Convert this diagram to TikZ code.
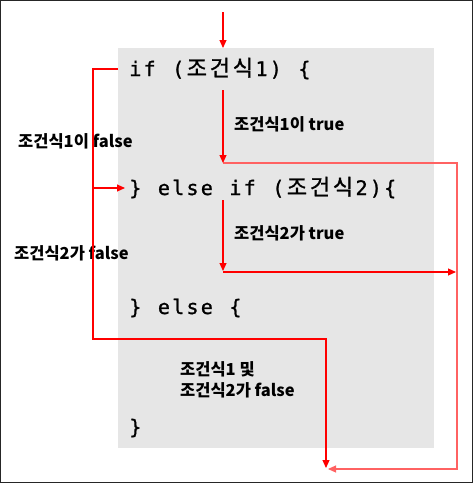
\documentclass[tikz,border=0pt]{standalone}
\usepackage{fontspec}
\usetikzlibrary{arrows.meta}
\newfontfamily\krf{Noto Sans CJK KR}
\newfontfamily\krcode{Noto Sans CJK KR}[FakeBold=1.2]
\newfontfamily\codef{DejaVu Sans Mono}[FakeBold=1.2]
\definecolor{boxgray}{HTML}{E6E6E6}
\definecolor{arrred}{HTML}{FF0000}
\definecolor{arrpink}{HTML}{FF6262}
\newcommand\ch[1]{\makebox[14.3pt][c]{#1}}
\newcommand\kc[1]{\makebox[23pt][c]{\krcode\fontsize{22}{26}\selectfont #1}}
\begin{document}
\begin{tikzpicture}[x=1pt,y=-1pt,
  codetxt/.style={font=\codef\fontsize{20}{24}\selectfont, inner sep=0pt, anchor=base west},
  lbl/.style={font=\krf\bfseries\fontsize{16.5}{21}\selectfont, inner sep=0pt, anchor=base west},
  arr/.style={draw=arrred, line width=1.1pt, -{Triangle[length=8pt,width=7pt]}},
  arrp/.style={draw=arrpink, line width=1.1pt, -{Triangle[length=8pt,width=7pt]}}]
\useasboundingbox (0,0) rectangle (473,483);
\draw[black!85, line width=1.2pt] (0.6,0.6) rectangle (472.4,482.4);
\node[fill=boxgray, minimum width=316pt, minimum height=400pt, inner sep=0pt, anchor=north west] (box) at (118,48) {};
% code lines
\node[codetxt] (l1) at (128,76) {\ch{i}\ch{f}\ch{}\ch{(}\kc{조}\kc{건}\kc{식}\ch{1}\ch{)}\ch{}\ch{\{}};
\node[codetxt] (l2) at (128,195) {\ch{\}}\ch{}\ch{e}\ch{l}\ch{s}\ch{e}\ch{}\ch{i}\ch{f}\ch{}\ch{(}\kc{조}\kc{건}\kc{식}\ch{2}\ch{)}\ch{\{}};
\node[codetxt] (l3) at (128,314) {\ch{\}}\ch{}\ch{e}\ch{l}\ch{s}\ch{e}\ch{}\ch{\{}};
\node[codetxt] (l4) at (128,434) {\ch{\}}};
% labels
\node[lbl] (c1t) at (234,130) {조건식1이 true};
\node[lbl] (c1f) at (18,147) {조건식1이 false};
\node[lbl] (c2t) at (234,239) {조건식2가 true};
\node[lbl] (c2f) at (14,259) {조건식2가 false};
\node[lbl] (c3a) at (180,375) {조건식1 및};
\node[lbl] (c3b) at (180,396) {조건식2가 false};
% coordinates
\coordinate (s0) at (223,12);
\coordinate (t0) at (223,48);
\coordinate (s1) at (223,90);
\coordinate (t1) at (223,163);
\coordinate (r1) at (457,163);
\coordinate (r2) at (457,469);
\coordinate (t3) at (328,469);
\coordinate (s4) at (223,200);
\coordinate (t4) at (223,271);
\coordinate (s5) at (223,272);
\coordinate (t5) at (456,272);
\coordinate (L0) at (118,69);
\coordinate (L1) at (93,69);
\coordinate (L2) at (93,339);
\coordinate (L3) at (326,339);
\coordinate (t6) at (326,468);
\coordinate (Lm) at (93,188);
\coordinate (t7) at (125,188);
% connectors
\draw[arrp] (t1) -- (r1) -- (r2) -- (t3);
\draw[arr] (s0) -- (t0);
\draw[arr] (s1) -- (t1);
\draw[arr] (s4) -- (t4);
\draw[arr] (s5) -- (t5);
\draw[arr] (L0) -- (L1) -- (L2) -- (L3) -- (t6);
\draw[arr] (Lm) -- (t7);
\end{tikzpicture}
\end{document}
